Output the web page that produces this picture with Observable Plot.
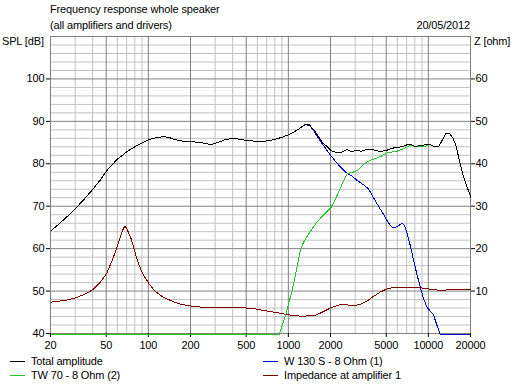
<!DOCTYPE html>
<html>
<head>
<meta charset="utf-8">
<script src="https://cdn.jsdelivr.net/npm/d3@7"></script>
<script src="https://cdn.jsdelivr.net/npm/@observablehq/plot@0.6"></script>
<style>
  html, body { margin: 0; padding: 0; background: #fff; }
  #wrap { position: relative; width: 517px; height: 387px; font-family: "Liberation Sans", Arial, sans-serif; font-size: 11px; letter-spacing: -0.15px; color: #000; }
  #chart { position: absolute; left: 0; top: 0; }
  .t { position: absolute; white-space: nowrap; line-height: 13px; }
  .leg { position: absolute; white-space: nowrap; line-height: 13px; }
  .leg i { display: inline-block; width: 15px; height: 0; border-top-width: 1px; border-top-style: solid; vertical-align: middle; margin-right: 6px; position: relative; top: -1px; }
</style>
</head>
<body>
<div id="wrap">
  <div id="chart"></div>
  <div class="t" id="title" style="left:50px; top:3px;"></div>
  <div class="t" id="subtitle" style="left:50px; top:19px;"></div>
  <div class="t" id="date" style="right:47px; top:19px;"></div>
  <div class="t" id="ylabL" style="left:2px; top:35px;"></div>
  <div class="t" id="ylabR" style="left:474px; top:35px;"></div>
  <div id="legend"></div>
</div>
<script>
// ---- Text ----
const titleText = "Frequency response whole speaker";
const subtitleText = "(all amplifiers and drivers)";
const dateText = "20/05/2012";
const leftAxisLabel = "SPL [dB]";
const rightAxisLabel = "Z [ohm]";

// ---- Tick values ----
const xTickValues = [20, 50, 100, 200, 500, 1000, 2000, 5000, 10000, 20000];
const xTickLabels = ["20", "50", "100", "200", "500", "1000", "2000", "5000", "10000", "20000"];
const xMinorGrid = [30, 40, 60, 70, 80, 90, 300, 400, 600, 700, 800, 900, 3000, 4000, 6000, 7000, 8000, 9000];
const yTickValues = [40, 50, 60, 70, 80, 90, 100];
const yMajorGrid = [50, 60, 70, 80, 90, 100];
const yMinorGrid = [42, 44, 46, 48, 52, 54, 56, 58, 62, 64, 66, 68, 72, 74, 76, 78, 82, 84, 86, 88, 92, 94, 96, 98, 102, 104, 106, 108];
const zTickValues = [10, 20, 30, 40, 50, 60];

// ---- Series: Total amplitude (dB) ----
const totalFreq = [20, 25, 30, 35, 40, 45, 50, 55, 60, 70, 80, 90, 100, 110, 120, 130, 140, 150, 170, 200, 230, 260, 280, 310, 350, 400, 450, 500, 600, 700, 800, 900, 1000, 1100, 1200, 1300, 1400, 1500, 1600, 1750, 1900, 2000, 2200, 2400, 2600, 2800, 3000, 3300, 3600, 4000, 4500, 5000, 5500, 6000, 6500, 7000, 7500, 8000, 8700, 9500, 10200, 11000, 11800, 12500, 13300, 14000, 14800, 15600, 16500, 17500, 18700, 20000];
const totalSpl  = [64.3, 67.1, 69.6, 72.0, 74.2, 76.3, 78.5, 80.0, 81.3, 83.0, 84.2, 85.1, 85.8, 86.2, 86.4, 86.5, 86.3, 85.9, 85.5, 85.3, 85.2, 84.8, 84.7, 85.1, 85.8, 86.1, 85.9, 85.6, 85.4, 85.5, 85.9, 86.4, 87.0, 87.7, 88.5, 89.3, 89.3, 88.2, 86.9, 85.0, 84.0, 83.2, 82.8, 82.9, 83.5, 83.0, 83.2, 83.1, 83.5, 83.4, 83.0, 83.3, 83.8, 84.0, 84.2, 84.6, 84.6, 84.2, 84.4, 84.6, 84.7, 84.1, 84.2, 85.8, 87.3, 87.3, 86.3, 84.5, 81.0, 77.5, 74.8, 72.1];

// ---- Series: W 130 S - 8 Ohm (1) (dB) ----
const wooferFreq = [20, 25, 30, 35, 40, 45, 50, 55, 60, 70, 80, 90, 100, 110, 120, 130, 140, 150, 170, 200, 230, 260, 280, 310, 350, 400, 450, 500, 600, 700, 800, 900, 1000, 1100, 1200, 1300, 1400, 1500, 1600, 1750, 1900, 2000, 2200, 2400, 2600, 2800, 3100, 3400, 3700, 4000, 4300, 4700, 5100, 5400, 5700, 6000, 6400, 6700, 7000, 7400, 7800, 8200, 8700, 9200, 9700, 10300, 10800, 11300, 12000, 20000];
const wooferSpl  = [64.3, 67.1, 69.6, 72.0, 74.2, 76.3, 78.5, 80.0, 81.3, 83.0, 84.2, 85.1, 85.8, 86.2, 86.4, 86.5, 86.3, 85.9, 85.5, 85.3, 85.2, 84.8, 84.7, 85.1, 85.8, 86.1, 85.9, 85.6, 85.4, 85.5, 85.9, 86.4, 87.0, 87.7, 88.5, 89.3, 89.2, 88.0, 86.5, 84.6, 83.0, 82.0, 80.3, 79.0, 77.9, 77.3, 76.1, 75.2, 74.2, 72.3, 70.5, 68.4, 66.4, 65.3, 65.0, 65.4, 66.1, 65.6, 63.6, 60.6, 57.2, 54.2, 50.9, 48.2, 46.3, 45.3, 44.5, 42.5, 40.0, 40.0];

// ---- Series: TW 70 - 8 Ohm (2) (dB) ----
const tweeterFreq = [20, 858, 900, 950, 1000, 1050, 1100, 1150, 1200, 1260, 1330, 1400, 1570, 1740, 2000, 2150, 2300, 2450, 2620, 2850, 3080, 3300, 3530, 3800, 4040, 4500, 5050, 5500, 5940, 6500, 7380, 8000, 8700, 9500, 10250];
const tweeterSpl  = [40.0, 40.0, 42.3, 44.5, 47.3, 50.0, 53.0, 56.2, 59.2, 61.3, 62.7, 63.8, 66.2, 67.8, 69.8, 71.8, 73.9, 76.0, 77.8, 78.1, 78.5, 79.5, 80.4, 80.9, 81.2, 81.8, 82.7, 82.9, 83.1, 83.6, 84.5, 84.2, 84.1, 84.3, 84.7];

// ---- Series: Impedance at amplifier 1 (ohm) ----
const impFreq = [20, 25, 30, 35, 40, 45, 50, 55, 60, 65, 67.5, 70, 75, 80, 85, 90, 100, 110, 120, 130, 150, 170, 200, 240, 300, 400, 535, 650, 836, 1000, 1220, 1520, 1700, 2000, 2300, 2600, 2900, 3300, 3630, 4000, 4500, 5000, 5500, 6000, 7000, 8700, 10000, 12000, 13000, 14000, 20000];
const impOhm  = [7.5, 7.9, 8.5, 9.4, 10.5, 12.2, 14.3, 17.5, 21.0, 24.5, 25.5, 24.6, 22.3, 19.0, 16.3, 14.3, 11.9, 10.2, 9.2, 8.5, 7.6, 7.0, 6.6, 6.3, 6.2, 6.2, 6.1, 5.6, 5.0, 4.5, 4.2, 4.3, 5.0, 6.2, 6.9, 6.9, 6.6, 7.1, 7.8, 8.8, 9.9, 10.6, 10.9, 11.0, 11.0, 10.9, 10.6, 10.3, 10.3, 10.5, 10.5];

// ---- Legend ----
const legendNames  = ["Total amplitude", "W 130 S - 8 Ohm (1)", "TW 70 - 8 Ohm (2)", "Impedance at amplifier 1"];
const legendColors = ["#000000", "#0000c8", "#22c822", "#800000"];

// Z axis shares the plotting area: Z = SPL - 40
const zOffset = 40;

const zip = (xs, ys) => xs.map((f, i) => ({f, v: ys[i]}));
const total = zip(totalFreq, totalSpl);
const woofer = zip(wooferFreq, wooferSpl);
const tweeter = zip(tweeterFreq, tweeterSpl);
const imp = zip(impFreq, impOhm);
const xTicks = xTickValues.map((v, i) => ({v, label: xTickLabels[i]}));

const lineOpts = {x: "f", y: "v", strokeWidth: 1, shapeRendering: "crispEdges", dx: 0.5, dy: 0.5};

const chart = Plot.plot({
  width: 517,
  height: 387,
  marginLeft: 50,
  marginRight: 47,
  marginTop: 36,
  marginBottom: 54,
  style: {fontFamily: '"Liberation Sans", Arial, sans-serif', fontSize: "11px", background: "#fff", color: "#000", letterSpacing: "-0.15px"},
  x: {type: "log", domain: [20, 20000]},
  y: {domain: [40, 110]},
  marks: [
    Plot.ruleX(xMinorGrid, {stroke: "#c0c0c0", strokeWidth: 1}),
    Plot.ruleY(yMinorGrid, {stroke: "#c0c0c0", strokeWidth: 1}),
    Plot.ruleX(xTickValues, {stroke: "#808080", strokeWidth: 1}),
    Plot.ruleY(yMajorGrid, {stroke: "#808080", strokeWidth: 1}),
    Plot.frame({stroke: "#808080"}),
    Plot.axisX({ticks: xTickValues, tickSize: 4, tickFormat: () => "", label: null, stroke: "#000"}),
    Plot.text(xTicks, {x: "v", text: "label", frameAnchor: "bottom", dy: 12, lineAnchor: "middle", fill: "#000"}),
    Plot.axisY({ticks: yTickValues, anchor: "left", tickSize: 4, tickPadding: 2, label: null, stroke: "#000"}),
    Plot.axisY({ticks: zTickValues.map(z => z + zOffset), anchor: "right", tickSize: 4, tickPadding: 1, tickFormat: d => String(d - zOffset), label: null, stroke: "#000"}),
    Plot.line(imp, {...lineOpts, y: d => d.v + zOffset, stroke: legendColors[3]}),
    Plot.line(woofer, {...lineOpts, stroke: legendColors[1]}),
    Plot.line(tweeter, {...lineOpts, stroke: legendColors[2]}),
    Plot.line(total, {...lineOpts, stroke: legendColors[0]})
  ]
});
document.getElementById("chart").appendChild(chart);

document.getElementById("title").textContent = titleText;
document.getElementById("subtitle").textContent = subtitleText;
document.getElementById("date").textContent = dateText;
document.getElementById("ylabL").textContent = leftAxisLabel;
document.getElementById("ylabR").textContent = rightAxisLabel;

const legPos = [[10, 355], [263, 355], [10, 369], [263, 369]];
const legend = document.getElementById("legend");
legendNames.forEach((name, i) => {
  const d = document.createElement("div");
  d.className = "leg";
  d.style.left = legPos[i][0] + "px";
  d.style.top = legPos[i][1] + "px";
  const sw = document.createElement("i");
  sw.style.borderTopColor = legendColors[i];
  d.appendChild(sw);
  d.appendChild(document.createTextNode(name));
  legend.appendChild(d);
});
</script>
</body>
</html>
